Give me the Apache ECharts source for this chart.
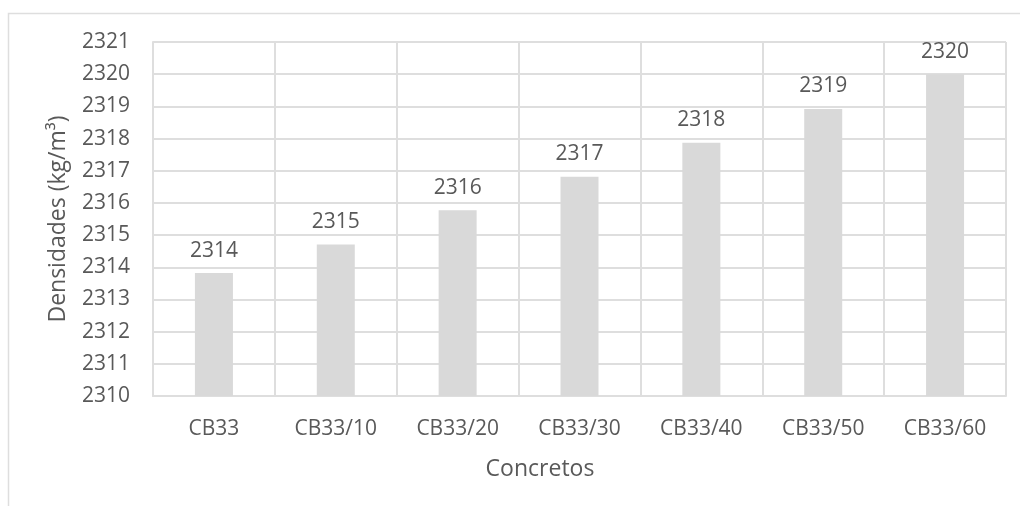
<!DOCTYPE html>
<html>
<head>
<meta charset="utf-8">
<script src="https://cdn.jsdelivr.net/npm/echarts@6/dist/echarts.min.js"></script>
<style>
  html, body { margin: 0; padding: 0; background: #ffffff; }
  #chart { width: 1020px; height: 506px; }
</style>
</head>
<body>
<div id="chart"></div>
<script>
// Concrete mixes and their measured densities (kg/m³)
const categories = ['CB33', 'CB33/10', 'CB33/20', 'CB33/30', 'CB33/40', 'CB33/50', 'CB33/60'];
const densities = [2313.82, 2314.71, 2315.77, 2316.81, 2317.87, 2318.92, 2320.0];
const yTicks = { min: 2310, max: 2321, step: 1 };
const xTitle = 'Concretos';
const yTitle = 'Densidades (kg/m³)';

const FONT = '"Open Sans", "Noto Sans", sans-serif';
const TEXT = '#595959';
const LINE = '#dedede';

const chart = echarts.init(document.getElementById('chart'), null, { renderer: 'canvas' });

chart.setOption({
  backgroundColor: '#ffffff',
  animation: false,
  textStyle: { fontFamily: FONT, color: TEXT },
  grid: { left: 153, right: 14, top: 42, bottom: 110, containLabel: false },
  graphic: [
    {
      // chart area frame
      type: 'rect',
      z: -10,
      shape: { x: 8.5, y: 13.5, width: 1100, height: 600 },
      style: { fill: null, stroke: LINE, lineWidth: 1.5 }
    },
    {
      type: 'text',
      x: 540,
      y: 469,
      style: {
        text: xTitle,
        font: '23px ' + FONT,
        fill: TEXT,
        align: 'center',
        verticalAlign: 'middle'
      }
    }
  ],
  xAxis: {
    type: 'category',
    data: categories,
    boundaryGap: true,
    axisLine: { show: true, lineStyle: { color: LINE, width: 2 } },
    axisTick: { show: false },
    splitLine: { show: true, lineStyle: { color: LINE, width: 2 } },
    axisLabel: { color: TEXT, fontFamily: FONT, fontSize: 21, margin: 23 }
  },
  yAxis: {
    type: 'value',
    min: yTicks.min,
    max: yTicks.max,
    interval: yTicks.step,
    name: yTitle,
    nameLocation: 'middle',
    nameGap: 83,
    nameTextStyle: { color: TEXT, fontFamily: FONT, fontSize: 23 },
    axisLine: { show: true, lineStyle: { color: LINE, width: 2 } },
    axisTick: { show: false },
    splitLine: { show: true, lineStyle: { color: LINE, width: 2 } },
    axisLabel: {
      color: TEXT, fontFamily: FONT, fontSize: 21, margin: 23,
      formatter: v => String(v)
    }
  },
  series: [
    {
      type: 'bar',
      data: densities,
      barWidth: 38,
      itemStyle: { color: '#d9d9d9' },
      label: {
        show: true,
        position: 'top',
        distance: 12,
        color: TEXT,
        fontFamily: FONT,
        fontSize: 21,
        formatter: p => String(Math.round(p.value))
      }
    }
  ]
});
</script>
</body>
</html>
